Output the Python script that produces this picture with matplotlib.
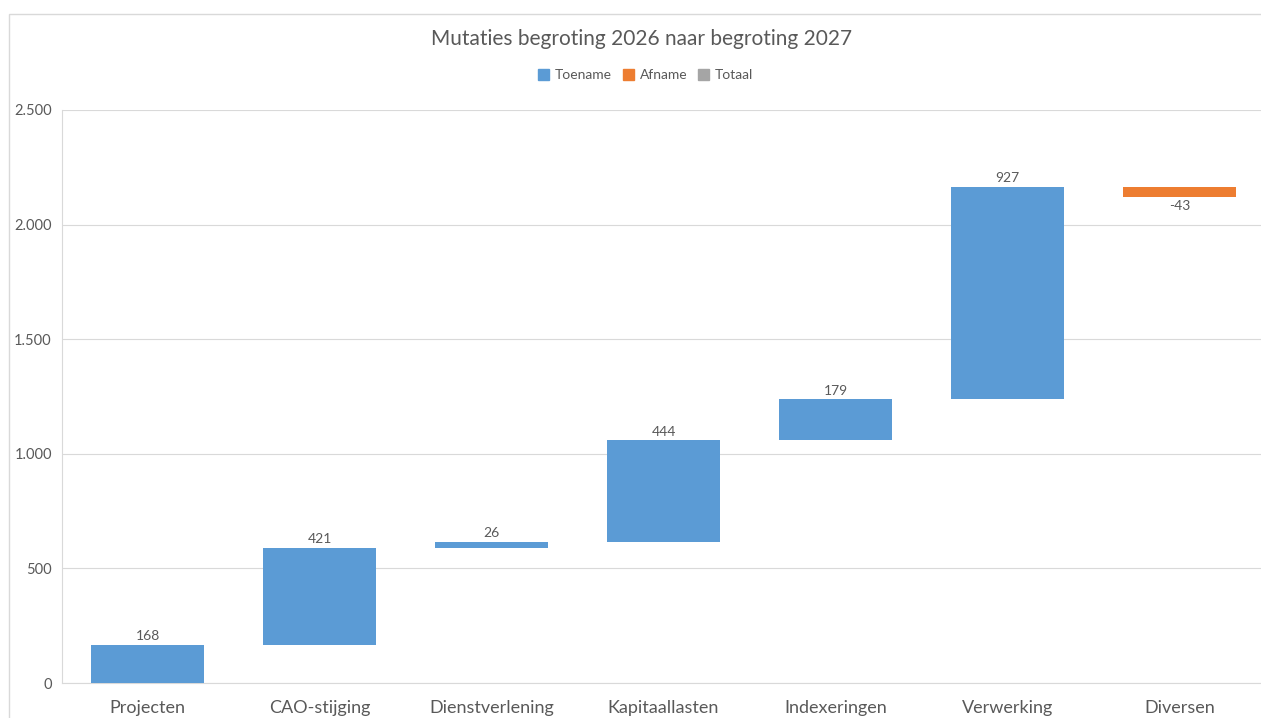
import numpy as np
import matplotlib
matplotlib.use("Agg")
import matplotlib.pyplot as plt
from matplotlib.patches import Patch, Rectangle
from matplotlib.ticker import FuncFormatter

categories = ["Projecten", "CAO-stijging", "Dienstverlening", "Kapitaallasten",
              "Indexeringen", "Verwerking", "Diversen"]
values = [168, 421, 26, 444, 179, 927, -43]
y_ticks = [0, 500, 1000, 1500, 2000, 2500]

blue = "#5B9BD5"
orange = "#ED7D31"
gray = "#A5A5A5"
txt = "#595959"

plt.rcParams['font.family'] = ['Lato', 'DejaVu Sans']

fig = plt.figure(figsize=(12.61, 7.18), dpi=100)
ax = fig.add_axes([0.0488, 0.0487, 0.9548, 0.7981])

# outer chart border
fig.patches.append(Rectangle((9 / 1261, -0.01), 1.0, 1 - 14 / 718 + 0.01,
                             transform=fig.transFigure, fill=False,
                             edgecolor="#D9D9D9", linewidth=1.0))

vals = np.array(values)
ends = np.cumsum(vals)
starts = ends - vals
x = np.arange(len(categories))
colors = [blue if v >= 0 else orange for v in vals]

ax.bar(x, vals, bottom=starts, width=0.66, color=colors, zorder=3)

for xi, s, e, v in zip(x, starts, ends, vals):
    if v >= 0:
        ax.text(xi, e + 12, f"{v}", ha="center", va="bottom", fontsize=10, color=txt)
    else:
        ax.text(xi, e - 15, f"{v}", ha="center", va="top", fontsize=10, color=txt)

ax.set_xlim(-0.5, len(categories) - 0.5)
ax.set_ylim(0, 2500)
ax.set_yticks(y_ticks)
ax.yaxis.set_major_formatter(FuncFormatter(lambda v, p: f"{int(v):,}".replace(",", ".")))
ax.set_xticks(x)
ax.set_xticklabels(categories, fontsize=13, color=txt)
ax.tick_params(axis="y", labelsize=10.5, labelcolor=txt, length=0, pad=7)
ax.tick_params(axis="x", length=0, pad=12)
ax.grid(axis="y", color="#D9D9D9", linewidth=0.8, zorder=0)
for side in ["top", "right"]:
    ax.spines[side].set_visible(False)
for side in ["left", "bottom"]:
    ax.spines[side].set_color("#D9D9D9")
    ax.spines[side].set_linewidth(0.8)

fig.text(0.509, 0.945, "Mutaties begroting 2026 naar begroting 2027",
         ha="center", va="center", fontsize=15, color=txt)

handles = [Patch(color=blue, label="Toename"),
           Patch(color=orange, label="Afname"),
           Patch(color=gray, label="Totaal")]
fig.legend(handles=handles, loc="center", bbox_to_anchor=(0.512, 0.895), ncol=3,
           frameon=False, fontsize=10, labelcolor=txt, handlelength=0.8,
           handleheight=0.8, handletextpad=0.4, columnspacing=0.8)

fig.savefig("out.png", dpi=100)
